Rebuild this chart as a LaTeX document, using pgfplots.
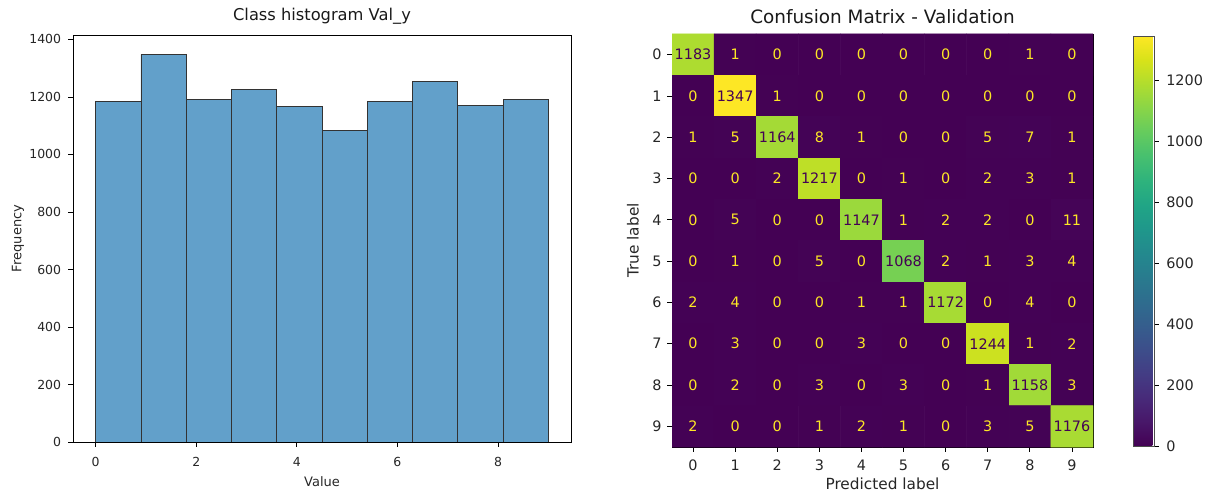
\documentclass[border=0pt]{standalone}
\usepackage{pgfplots}
\usepackage{pgfplotstable}
\pgfplotsset{compat=1.18}
\usepackage{fontspec}
\setmainfont{DejaVu Sans}
\definecolor{histfill}{HTML}{62A0CA}
\definecolor{vlo}{HTML}{440154}
\definecolor{vhi}{HTML}{FDE725}

\pgfplotstableread{
x y v
0 0 1183
1 0 1
2 0 0
3 0 0
4 0 0
5 0 0
6 0 0
7 0 0
8 0 1
9 0 0
0 1 0
1 1 1347
2 1 1
3 1 0
4 1 0
5 1 0
6 1 0
7 1 0
8 1 0
9 1 0
0 2 1
1 2 5
2 2 1164
3 2 8
4 2 1
5 2 0
6 2 0
7 2 5
8 2 7
9 2 1
0 3 0
1 3 0
2 3 2
3 3 1217
4 3 0
5 3 1
6 3 0
7 3 2
8 3 3
9 3 1
0 4 0
1 4 5
2 4 0
3 4 0
4 4 1147
5 4 1
6 4 2
7 4 2
8 4 0
9 4 11
0 5 0
1 5 1
2 5 0
3 5 5
4 5 0
5 5 1068
6 5 2
7 5 1
8 5 3
9 5 4
0 6 2
1 6 4
2 6 0
3 6 0
4 6 1
5 6 1
6 6 1172
7 6 0
8 6 4
9 6 0
0 7 0
1 7 3
2 7 0
3 7 0
4 7 3
5 7 0
6 7 0
7 7 1244
8 7 1
9 7 2
0 8 0
1 8 2
2 8 0
3 8 3
4 8 0
5 8 3
6 8 0
7 8 1
8 8 1158
9 8 3
0 9 2
1 9 0
2 9 0
3 9 1
4 9 2
5 9 1
6 9 0
7 9 3
8 9 5
9 9 1176
}\cmtable

\pgfplotsset{
  mpl/.style={
    scale only axis,
    tick align=outside,
    tick pos=left,
    major tick length=3.4pt,
    every tick/.style={black, line width=0.6pt},
    axis line style={black, line width=0.6pt},
    /pgf/number format/assume math mode=true,
    /pgf/number format/1000 sep={},
  }
}

\begin{document}
\begin{tikzpicture}
\useasboundingbox (0pt,0pt) rectangle (904.5pt,371.25pt);

% Histogram
\begin{axis}[mpl,
  at={(54.75pt,39.75pt)}, anchor=south west,
  width=373.5pt, height=305.25pt,
  xmin=-0.45, xmax=9.45, ymin=0, ymax=1415.4,
  xtick={0,2,4,6,8}, ytick={0,200,...,1400},
  tick label style={font=\fontsize{9.35}{11}\selectfont, text=black!85},
  xticklabel style={yshift=-4.5pt},
  yticklabel style={xshift=-2pt},
  xlabel={Value}, ylabel={Frequency},
  every axis x label/.style={at={(axis description cs:0.5,-0.0983)}, anchor=center, font=\fontsize{9.75}{11}\selectfont, text=black!85},
  every axis y label/.style={at={(axis description cs:-0.1104,0.5)}, rotate=90, anchor=center, font=\fontsize{9.75}{11}\selectfont, text=black!85},
  title={Class histogram Val\_y},
  every axis title/.style={at={(axis description cs:0.5,1.0467)}, anchor=center, font=\fontsize{12.2}{14}\selectfont, text=black!90},
]
\addplot[ybar interval, fill=histfill, draw=black!80, line width=0.6pt] coordinates {
(0,1185) (0.9,1348) (1.8,1192) (2.7,1226) (3.6,1168) (4.5,1084) (5.4,1184) (6.3,1253) (7.2,1170) (8.1,1190) (9,1190)};
\end{axis}

% Confusion matrix
\begin{axis}[mpl,
  at={(504pt,36pt)}, anchor=south west,
  width=315.75pt, height=309.75pt,
  xmin=-0.5, xmax=9.5, ymin=-0.5, ymax=9.5, y dir=reverse,
  enlargelimits=false,
  xtick={0,...,9}, ytick={0,...,9},
  tick label style={font=\fontsize{10.8}{12}\selectfont, text=black!85},
  xticklabel style={yshift=-2.5pt},
  yticklabel style={xshift=-1pt},
  xlabel={Predicted label}, ylabel={True label},
  every axis x label/.style={at={(axis description cs:0.5,-0.0896)}, anchor=center, font=\fontsize{11.5}{13}\selectfont, text=black!85},
  every axis y label/.style={at={(axis description cs:-0.0926,0.5)}, rotate=90, anchor=center, font=\fontsize{11.5}{13}\selectfont, text=black!85},
  title={Confusion Matrix - Validation},
  every axis title/.style={at={(axis description cs:0.5,1.041)}, anchor=center, font=\fontsize{13.8}{16}\selectfont, text=black!90},
  colormap/viridis, point meta min=0, point meta max=1347,
  colorbar,
  colorbar style={
    at={(parent axis.south east)}, anchor=south west,
    xshift=21.75pt, yshift=0.75pt,
    scale only axis, width=15.75pt, height=307.5pt,
    ytick={0,200,...,1200}, xtick=\empty,
    ytick pos=right, yticklabel pos=right,
    tick align=outside, major tick length=3.4pt,
    every tick/.style={black, line width=0.6pt},
    axis line style={black!70, line width=0.6pt},
    /pgf/number format/assume math mode=true,
    /pgf/number format/1000 sep={},
    yticklabel style={font=\fontsize{10.8}{12}\selectfont, text=black!85, xshift=2pt},
  },
]
\addplot[matrix plot*, mesh/cols=10, point meta=explicit] table[x=x, y=y, meta=v] {\cmtable};
\addplot[draw=none, mark=none, point meta=explicit,
  visualization depends on={\thisrow{v} \as \cmv},
  nodes near coords={\pgfmathtruncatemacro\cmi{\cmv}\ifnum\cmi>600 \color{vlo}\else\color{vhi}\fi\cmi},
  nodes near coords align=center,
  every node near coord/.append style={anchor=center, font=\fontsize{10.8}{12}\selectfont, inner sep=0pt},
] table[x=x, y=y, meta=v] {\cmtable};
\end{axis}
\end{tikzpicture}
\end{document}
